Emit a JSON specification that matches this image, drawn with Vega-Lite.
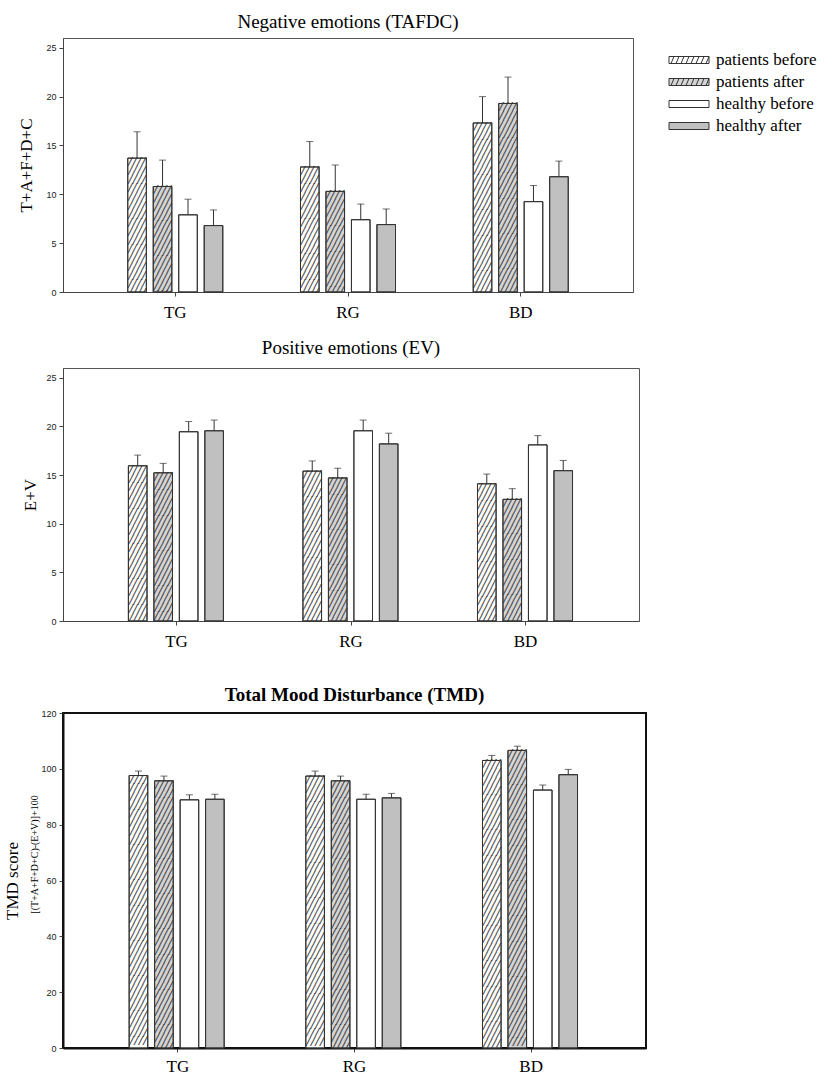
{
  "$schema": "https://vega.github.io/schema/vega-lite/v6.json",
  "background": "white",
  "padding": {"left": 2, "top": 12, "right": 0, "bottom": 0},
  "datasets": {
    "mood": [
      {"panel": "neg", "group": "TG", "cond": "patients before", "mean": 13.7, "upper": 16.4},
      {"panel": "neg", "group": "TG", "cond": "patients after", "mean": 10.8, "upper": 13.5},
      {"panel": "neg", "group": "TG", "cond": "healthy before", "mean": 7.9, "upper": 9.5},
      {"panel": "neg", "group": "TG", "cond": "healthy after", "mean": 6.8, "upper": 8.4},
      {"panel": "neg", "group": "RG", "cond": "patients before", "mean": 12.8, "upper": 15.4},
      {"panel": "neg", "group": "RG", "cond": "patients after", "mean": 10.3, "upper": 13.0},
      {"panel": "neg", "group": "RG", "cond": "healthy before", "mean": 7.4, "upper": 9.0},
      {"panel": "neg", "group": "RG", "cond": "healthy after", "mean": 6.9, "upper": 8.5},
      {"panel": "neg", "group": "BD", "cond": "patients before", "mean": 17.3, "upper": 20.0},
      {"panel": "neg", "group": "BD", "cond": "patients after", "mean": 19.3, "upper": 22.0},
      {"panel": "neg", "group": "BD", "cond": "healthy before", "mean": 9.25, "upper": 10.9},
      {"panel": "neg", "group": "BD", "cond": "healthy after", "mean": 11.8, "upper": 13.4},
      {"panel": "pos", "group": "TG", "cond": "patients before", "mean": 15.95, "upper": 17.05},
      {"panel": "pos", "group": "TG", "cond": "patients after", "mean": 15.23, "upper": 16.2},
      {"panel": "pos", "group": "TG", "cond": "healthy before", "mean": 19.45, "upper": 20.5},
      {"panel": "pos", "group": "TG", "cond": "healthy after", "mean": 19.55, "upper": 20.65},
      {"panel": "pos", "group": "RG", "cond": "patients before", "mean": 15.4, "upper": 16.45},
      {"panel": "pos", "group": "RG", "cond": "patients after", "mean": 14.7, "upper": 15.7},
      {"panel": "pos", "group": "RG", "cond": "healthy before", "mean": 19.55, "upper": 20.65},
      {"panel": "pos", "group": "RG", "cond": "healthy after", "mean": 18.2, "upper": 19.3},
      {"panel": "pos", "group": "BD", "cond": "patients before", "mean": 14.1, "upper": 15.1},
      {"panel": "pos", "group": "BD", "cond": "patients after", "mean": 12.5, "upper": 13.6},
      {"panel": "pos", "group": "BD", "cond": "healthy before", "mean": 18.1, "upper": 19.05},
      {"panel": "pos", "group": "BD", "cond": "healthy after", "mean": 15.45, "upper": 16.5},
      {"panel": "tmd", "group": "TG", "cond": "patients before", "mean": 97.6, "upper": 99.2},
      {"panel": "tmd", "group": "TG", "cond": "patients after", "mean": 95.7, "upper": 97.4},
      {"panel": "tmd", "group": "TG", "cond": "healthy before", "mean": 88.9, "upper": 90.7},
      {"panel": "tmd", "group": "TG", "cond": "healthy after", "mean": 89.1, "upper": 90.9},
      {"panel": "tmd", "group": "RG", "cond": "patients before", "mean": 97.4, "upper": 99.2},
      {"panel": "tmd", "group": "RG", "cond": "patients after", "mean": 95.7, "upper": 97.4},
      {"panel": "tmd", "group": "RG", "cond": "healthy before", "mean": 89.1, "upper": 90.9},
      {"panel": "tmd", "group": "RG", "cond": "healthy after", "mean": 89.6, "upper": 91.2},
      {"panel": "tmd", "group": "BD", "cond": "patients before", "mean": 103.0, "upper": 104.8},
      {"panel": "tmd", "group": "BD", "cond": "patients after", "mean": 106.6, "upper": 108.1},
      {"panel": "tmd", "group": "BD", "cond": "healthy before", "mean": 92.4, "upper": 94.2},
      {"panel": "tmd", "group": "BD", "cond": "healthy after", "mean": 97.9, "upper": 99.8}
    ]
  },
  "vconcat": [
    {
      "vconcat": [
        {
          "hconcat": [
            {
              "width": 570,
              "height": 254,
              "title": {"text": "Negative emotions (TAFDC)", "offset": 6.5},
              "view": {"stroke": "#555", "strokeWidth": 1},
              "data": {"name": "mood"},
              "transform": [{"filter": "datum.panel === 'neg'"}],
              "encoding": {
                "x": {"field": "group", "type": "nominal", "sort": ["TG", "RG", "BD"], "scale": {"paddingInner": 0.41, "paddingOuter": 0.355}, "axis": {"title": null}},
                "xOffset": {"field": "cond", "type": "nominal", "sort": ["patients before", "patients after", "healthy before", "healthy after"], "scale": {"paddingInner": 0.27, "paddingOuter": 0.135}}
              },
              "layer": [
                {
                  "mark": {"type": "bar", "stroke": "#333", "strokeWidth": 1},
                  "encoding": {
                    "y": {"field": "mean", "type": "quantitative", "scale": {"domain": [0, 25]}, "axis": {"title": "T+A+F+D+C", "values": [0, 5, 10, 15, 20, 25], "titlePadding": 10}},
                    "fill": {"field": "cond", "type": "nominal", "scale": {"domain": ["patients before", "patients after", "healthy before", "healthy after"], "range": ["#ffffff", "#d4d4d4", "#ffffff", "#c0c0c0"]}, "legend": null}
                  }
                },
                {
                  "transform": [{"filter": "indexof(datum.cond, 'patients') === 0"}],
                  "mark": {"type": "text", "clip": true, "font": "DejaVu Sans Mono", "fontSize": 7.5, "lineHeight": 8.73, "baseline": "top", "align": "center", "fill": "#333", "stroke": "#333", "strokeWidth": 0.3, "lineBreak": "|",
                    "text": {"expr": "'╱╱╱╱' + pad('', max(0, round(datum.mean * 10.16 / 8.73) - 1), '|╱╱╱╱')"}},
                  "encoding": {"y": {"field": "mean", "type": "quantitative"}}
                },
                {
                  "mark": {"type": "bar", "fillOpacity": 0, "stroke": "#333", "strokeWidth": 1},
                  "encoding": {"y": {"field": "mean", "type": "quantitative"}}
                },
                {
                  "mark": {"type": "rule", "color": "#333", "strokeWidth": 1},
                  "encoding": {"y": {"field": "mean", "type": "quantitative"}, "y2": {"field": "upper"}}
                },
                {
                  "mark": {"type": "tick", "color": "#333", "thickness": 1, "size": 7},
                  "encoding": {"y": {"field": "upper", "type": "quantitative"}}
                }
              ]
            },
            {
              "width": 40,
              "height": 110,
              "view": {"stroke": null},
              "data": {"name": "mood"},
              "transform": [{"filter": "datum.panel === 'neg' && datum.group === 'TG'"}],
              "encoding": {
                "y": {"field": "cond", "type": "nominal", "sort": ["patients before", "patients after", "healthy before", "healthy after"], "scale": {"type": "point", "padding": 1}, "axis": null}
              },
              "layer": [
                {
                  "mark": {"type": "point", "filled": true, "size": 1600, "stroke": "#333", "strokeWidth": 1, "opacity": 1},
                  "encoding": {
                    "shape": {"field": "cond", "type": "nominal", "scale": {"domain": ["patients before", "patients after", "healthy before", "healthy after"], "range": [
                      "M-1,-0.175H1V0.175H-1Z M-0.9,0.175L-0.75,-0.175 M-0.65,0.175L-0.5,-0.175 M-0.4,0.175L-0.25,-0.175 M-0.15,0.175L0,-0.175 M0.1,0.175L0.25,-0.175 M0.35,0.175L0.5,-0.175 M0.6,0.175L0.75,-0.175 M0.85,0.175L1,-0.175",
                      "M-1,-0.175H1V0.175H-1Z M-0.9,0.175L-0.75,-0.175 M-0.65,0.175L-0.5,-0.175 M-0.4,0.175L-0.25,-0.175 M-0.15,0.175L0,-0.175 M0.1,0.175L0.25,-0.175 M0.35,0.175L0.5,-0.175 M0.6,0.175L0.75,-0.175 M0.85,0.175L1,-0.175",
                      "M-1,-0.175H1V0.175H-1Z",
                      "M-1,-0.175H1V0.175H-1Z"]}, "legend": null},
                    "fill": {"field": "cond", "type": "nominal", "scale": {"domain": ["patients before", "patients after", "healthy before", "healthy after"], "range": ["#ffffff", "#d4d4d4", "#ffffff", "#b0b0b0"]}, "legend": null}
                  }
                },
                {
                  "mark": {"type": "text", "align": "left", "baseline": "middle", "dx": 27, "font": "Liberation Serif", "fontSize": 17, "color": "#000"},
                  "encoding": {"text": {"field": "cond"}}
                }
              ]
            }
          ],
          "spacing": 33
        },
        {
          "width": 576,
          "height": 253,
          "title": {"text": "Positive emotions (EV)", "offset": 10},
          "view": {"stroke": "#555", "strokeWidth": 1},
          "data": {"name": "mood"},
          "transform": [{"filter": "datum.panel === 'pos'"}],
          "encoding": {
            "x": {"field": "group", "type": "nominal", "sort": ["TG", "RG", "BD"], "scale": {"paddingInner": 0.41, "paddingOuter": 0.355}, "axis": {"title": null}},
            "xOffset": {"field": "cond", "type": "nominal", "sort": ["patients before", "patients after", "healthy before", "healthy after"], "scale": {"paddingInner": 0.27, "paddingOuter": 0.135}}
          },
          "layer": [
            {
              "mark": {"type": "bar", "stroke": "#333", "strokeWidth": 1},
              "encoding": {
                "y": {"field": "mean", "type": "quantitative", "scale": {"domain": [0, 25]}, "axis": {"title": "E+V", "values": [0, 5, 10, 15, 20, 25], "titlePadding": 6}},
                "fill": {"field": "cond", "type": "nominal", "scale": {"domain": ["patients before", "patients after", "healthy before", "healthy after"], "range": ["#ffffff", "#cccccc", "#ffffff", "#a8a8a8"]}, "legend": null}
              }
            },
            {
              "transform": [{"filter": "indexof(datum.cond, 'patients') === 0"}],
              "mark": {"type": "text", "clip": true, "font": "DejaVu Sans Mono", "fontSize": 7.5, "lineHeight": 8.73, "baseline": "top", "align": "center", "fill": "#333", "stroke": "#333", "strokeWidth": 0.3, "lineBreak": "|",
                "text": {"expr": "'╱╱╱╱' + pad('', max(0, round(datum.mean * 10.12 / 8.73) - 1), '|╱╱╱╱')"}},
              "encoding": {"y": {"field": "mean", "type": "quantitative"}}
            },
            {
              "mark": {"type": "bar", "fillOpacity": 0, "stroke": "#333", "strokeWidth": 1},
              "encoding": {"y": {"field": "mean", "type": "quantitative"}}
            },
            {
              "mark": {"type": "rule", "color": "#333", "strokeWidth": 1},
              "encoding": {"y": {"field": "mean", "type": "quantitative"}, "y2": {"field": "upper"}}
            },
            {
              "mark": {"type": "tick", "color": "#333", "thickness": 1, "size": 7},
              "encoding": {"y": {"field": "upper", "type": "quantitative"}}
            }
          ]
        }
      ],
      "spacing": 17
    },
    {
      "width": 583,
      "height": 335,
      "title": {"text": "Total Mood Disturbance (TMD)", "fontWeight": "bold", "offset": 4.5},
      "view": {"stroke": "#111", "strokeWidth": 2},
      "data": {"name": "mood"},
      "transform": [{"filter": "datum.panel === 'tmd'"}],
      "encoding": {
        "x": {"field": "group", "type": "nominal", "sort": ["TG", "RG", "BD"], "scale": {"paddingInner": 0.41, "paddingOuter": 0.355}, "axis": {"title": null, "domainWidth": 2, "domainColor": "#111", "labelPadding": 6}},
        "xOffset": {"field": "cond", "type": "nominal", "sort": ["patients before", "patients after", "healthy before", "healthy after"], "scale": {"paddingInner": 0.27, "paddingOuter": 0.135}}
      },
      "resolve": {"axis": {"y": "independent"}},
      "layer": [
        {
          "mark": {"type": "bar", "stroke": "#333", "strokeWidth": 1},
          "encoding": {
            "y": {"field": "mean", "type": "quantitative", "scale": {"domain": [0, 120]}, "axis": {"title": "TMD score", "orient": "left", "values": [0, 20, 40, 60, 80, 100, 120], "titlePadding": 19, "domainWidth": 2, "domainColor": "#111"}},
            "fill": {"field": "cond", "type": "nominal", "scale": {"domain": ["patients before", "patients after", "healthy before", "healthy after"], "range": ["#ffffff", "#cccccc", "#ffffff", "#a8a8a8"]}, "legend": null}
          }
        },
        {
          "transform": [{"filter": "indexof(datum.cond, 'patients') === 0"}],
          "mark": {"type": "text", "clip": true, "font": "DejaVu Sans Mono", "fontSize": 7.5, "lineHeight": 8.73, "baseline": "top", "align": "center", "fill": "#333", "stroke": "#333", "strokeWidth": 0.3, "lineBreak": "|",
            "text": {"expr": "'╱╱╱╱' + pad('', max(0, round(datum.mean * 2.792 / 8.73) - 1), '|╱╱╱╱')"}},
          "encoding": {"y": {"field": "mean", "type": "quantitative", "axis": null}}
        },
        {
          "mark": {"type": "bar", "fillOpacity": 0, "stroke": "#333", "strokeWidth": 1},
          "encoding": {"y": {"field": "mean", "type": "quantitative", "axis": null}}
        },
        {
          "mark": {"type": "rule", "color": "#333", "strokeWidth": 1},
          "encoding": {"y": {"field": "mean", "type": "quantitative", "axis": {"title": "[(T+A+F+D+C)-(E+V)]+100", "orient": "left", "titleFontSize": 10, "titleY": 141, "labels": false, "ticks": false, "domain": false, "titlePadding": 24}}, "y2": {"field": "upper"}}
        },
        {
          "mark": {"type": "tick", "color": "#333", "thickness": 1, "size": 7},
          "encoding": {"y": {"field": "upper", "type": "quantitative", "axis": null}}
        }
      ]
    }
  ],
  "spacing": 34,
  "config": {
    "font": "Liberation Serif",
    "title": {"font": "Liberation Serif", "fontSize": 19, "fontWeight": "normal", "color": "#000", "anchor": "middle"},
    "axis": {"grid": false, "domainColor": "#444", "tickColor": "#444", "tickSize": 4, "titleFont": "Liberation Serif", "titleFontWeight": "normal", "titleFontSize": 17, "titleColor": "#000"},
    "axisY": {"labelFont": "Liberation Sans", "labelFontSize": 9, "labelColor": "#222", "labelPadding": 3},
    "axisX": {"labelFont": "Liberation Serif", "labelFontSize": 17, "labelColor": "#000", "labelAngle": 0, "labelPadding": 8}
  }
}
